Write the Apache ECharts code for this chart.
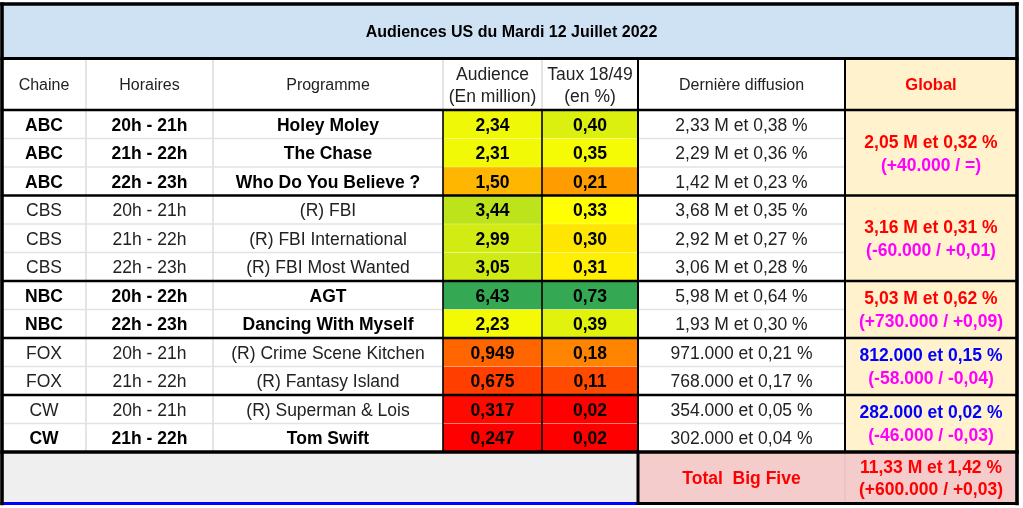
<!DOCTYPE html>
<html><head><meta charset="utf-8">
<script src="https://cdn.jsdelivr.net/npm/echarts@6/dist/echarts.min.js"></script>
<style>html,body{margin:0;padding:0;background:#fff}#c{width:1023px;height:508px}</style>
</head><body><div id="c"></div>
<script>
// ---------------- data ----------------
const title = 'Audiences US du Mardi 12 Juillet 2022';
const headers = ['Chaine','Horaires','Programme','Audience\n(En million)','Taux 18/49\n(en %)','Dernière diffusion','Global'];
const chaines = ['ABC','ABC','ABC','CBS','CBS','CBS','NBC','NBC','FOX','FOX','CW','CW'];
const horaires = ['20h - 21h','21h - 22h','22h - 23h','20h - 21h','21h - 22h','22h - 23h','20h - 22h','22h - 23h','20h - 21h','21h - 22h','20h - 21h','21h - 22h'];
const programmes = ['Holey Moley','The Chase','Who Do You Believe ?','(R) FBI','(R) FBI International','(R) FBI Most Wanted','AGT','Dancing With Myself','(R) Crime Scene Kitchen','(R) Fantasy Island','(R) Superman & Lois','Tom Swift'];
const audience = [2.34,2.31,1.50,3.44,2.99,3.05,6.43,2.23,0.949,0.675,0.317,0.247];
const taux = [0.40,0.35,0.21,0.33,0.30,0.31,0.73,0.39,0.18,0.11,0.02,0.02];
const derniere = ['2,33 M et 0,38 %','2,29 M et 0,36 %','1,42 M et 0,23 %','3,68 M et 0,35 %','2,92 M et 0,27 %','3,06 M et 0,28 %','5,98 M et 0,64 %','1,93 M et 0,30 %','971.000 et 0,21 %','768.000 et 0,17 %','354.000 et 0,05 %','302.000 et 0,04 %'];
const networks = ['ABC','CBS','NBC','FOX','CW'];
const networkRows = [3,3,2,2,2];
const globalMain = ['2,05 M et 0,32 %','3,16 M et 0,31 %','5,03 M et 0,62 %','812.000 et 0,15 %','282.000 et 0,02 %'];
const globalDelta = ['(+40.000 / =)','(-60.000 / +0,01)','(+730.000 / +0,09)','(-58.000 / -0,04)','(-46.000 / -0,03)'];
const totalLabel = 'Total  Big Five';
const totalMain = '11,33 M et 1,42 %';
const totalDelta = '(+600.000 / +0,03)';

// ---------------- layout & style ----------------
const colWidths = [84,127,230,99,96,207,172];
const titleH = 54.5, headerH = 51.5, rowH = 28.5, totalH = 51.5;
const boldRows = [0,1,2,6,7,11];
const globalMainColors = ['#ff0000','#ff0000','#ff0000','#0000ff','#0000ff'];
const deltaColor = '#ff00ff';
const scaleLow = '#ff0000', scaleMid = '#ffff00', scaleHigh = '#34a853';
const audienceMid = 2.0, tauxMid = 0.33;
const FONT = '"Liberation Sans", Arial, sans-serif';
const LIGHT = '#e2e2e2';
const TEXT_DY = 1.5;

const colX = [0];
colWidths.forEach(w => colX.push(colX[colX.length-1] + w));
const W = colX[colX.length-1];
const yTitle = 0, yHeader = titleH, yData = titleH + headerH;
const rowY = i => yData + i * rowH;
const yDataEnd = rowY(chaines.length);
const H = yDataEnd + totalH;

function hexToRgb(h){return [1,3,5].map(i=>parseInt(h.slice(i,i+2),16));}
function scaleColor(v, arr, mid){
  const min = Math.min(...arr), max = Math.max(...arr);
  let a,b,t;
  if (v <= mid){a=hexToRgb(scaleLow);b=hexToRgb(scaleMid);t=(v-min)/(mid-min);}
  else {a=hexToRgb(scaleMid);b=hexToRgb(scaleHigh);t=(v-mid)/(max-mid);}
  t = Math.max(0, Math.min(1, t));
  return 'rgb(' + a.map((x,i)=>Math.round(x+(b[i]-x)*t)).join(',') + ')';
}
const fmtAud = v => (v < 1 ? v.toFixed(3) : v.toFixed(2)).replace('.', ',');
const fmtTaux = v => v.toFixed(2).replace('.', ',');

// ---------------- build cells ----------------
const fills = [], texts = [], lines = [];
function fill(x0,y0,x1,y1,color){fills.push({value:[x0,y0,x1,y1], color});}
function text(x,y,t,o){texts.push(Object.assign({value:[x,y], text:t, size:17.5, weight:'normal', color:'#222', lh:22}, o||{}));}
function line(x0,y0,x1,y1,color,w){lines.push({value:[x0,y0,x1,y1], color, w});}
const cx = c => (colX[c] + colX[c+1]) / 2;

// title
fill(0,yTitle,W,yHeader,'#cfe2f3');
text(W/2+2,(yTitle+yHeader)/2,title,{size:16,weight:'bold',color:'#000'});
// header
fill(0,yHeader,colX[6],yData,'#ffffff');
fill(colX[6],yHeader,W,yData,'#fff2cc');
headers.forEach((h,c)=>{
  const o = {size:16};
  if (c===3||c===4) o.size = 17.5;
  if (c===6) {o.weight='bold'; o.color='#ff0000'; o.size=16.5;}
  text(cx(c),(yHeader+yData)/2,h,o);
});
// data rows
chaines.forEach((ch,i)=>{
  const y0 = rowY(i), y1 = rowY(i+1), ym = (y0+y1)/2;
  const bold = boldRows.indexOf(i) >= 0;
  const o = bold ? {weight:'bold', color:'#000'} : {};
  fill(0,y0,colX[3],y1,'#ffffff');
  fill(colX[3],y0,colX[4],y1,scaleColor(audience[i],audience,audienceMid));
  fill(colX[4],y0,colX[5],y1,scaleColor(taux[i],taux,tauxMid));
  fill(colX[5],y0,colX[6],y1,'#ffffff');
  text(cx(0),ym,ch,o);
  text(cx(1),ym,horaires[i],o);
  text(cx(2),ym,programmes[i],o);
  text(cx(3),ym,fmtAud(audience[i]),{weight:'bold',color:'#000'});
  text(cx(4),ym,fmtTaux(taux[i]),{weight:'bold',color:'#000'});
  text(cx(5),ym,derniere[i]);
});
// network groups (global column)
let start = 0;
const groupEdges = [];
networks.forEach((n,g)=>{
  const y0 = rowY(start), y1 = rowY(start + networkRows[g]), ym = (y0+y1)/2;
  fill(colX[6],y0,W,y1,'#fff2cc');
  text(cx(6),ym-11.5,globalMain[g],{weight:'bold',color:globalMainColors[g]});
  text(cx(6),ym+11.5,globalDelta[g],{weight:'bold',color:deltaColor});
  for (let k=start+1;k<start+networkRows[g];k++){
    line(0,rowY(k),colX[3],rowY(k),LIGHT,1.5);
    line(colX[3],rowY(k),colX[5],rowY(k),'rgba(255,255,255,0.3)',1.2);
    line(colX[5],rowY(k),colX[6],rowY(k),LIGHT,1.5);
  }
  start += networkRows[g];
  if (g < networks.length-1) groupEdges.push(rowY(start));
});
// total row
fill(0,yDataEnd,colX[5],H,'#efefef');
fill(colX[5],yDataEnd,W,H,'#f4cccc');
const ymT = (yDataEnd+H)/2;
text(cx(5),ymT,totalLabel,{weight:'bold',color:'#ff0000'});
text(cx(6),ymT-11.3,totalMain,{weight:'bold',color:'#ff0000'});
text(cx(6),ymT+11.3,totalDelta,{weight:'bold',color:'#ff0000'});

// light verticals
line(colX[1],yHeader,colX[1],yDataEnd,LIGHT,1.8);
line(colX[2],yHeader,colX[2],yDataEnd,LIGHT,1.8);
line(colX[3],yHeader,colX[3],yData,LIGHT,1.8);
line(colX[4],yHeader,colX[4],yData,LIGHT,1.8);
line(colX[6],yDataEnd,colX[6],H,'#e6bcbc',1);
// black verticals
line(colX[3],yData,colX[3],yDataEnd,'#000',1.6);
line(colX[4],yData,colX[4],yDataEnd,'#000',1.6);
line(colX[5],yHeader,colX[5],yDataEnd,'#000',2);
line(colX[6],yHeader,colX[6],yDataEnd,'#000',2);
// horizontals
line(0,yHeader,W,yHeader,'#000',3.2);
line(0,yData,W,yData,'#000',2.6);
groupEdges.forEach(y=>line(0,y,W,y,'#000',2.4));
line(0,yDataEnd,W,yDataEnd,'#000',3.4);
line(colX[5],yDataEnd,colX[5],H,'#000',3);
line(0,H,colX[5],H,'#0000ff',3);
line(colX[5],H,W,H,'#000',3.2);
// outer frame
line(0,0,W,0,'#000',3.5);
line(0,0,0,H,'#000',3.6);
line(W,0,W,H,'#000',3.6);

// ---------------- chart ----------------
const chart = echarts.init(document.getElementById('c'), null, {renderer:'canvas'});
chart.setOption({
  animation:false,
  backgroundColor:'#ffffff',
  grid:{left:2, top:4, width:W, height:H},
  xAxis:{type:'value', min:0, max:W, show:false},
  yAxis:{type:'value', min:0, max:H, inverse:true, show:false},
  series:[
    {type:'custom', z:1, data:fills.map(d=>d.value), silent:true,
     renderItem:(p,api)=>{
       const a=api.coord([api.value(0),api.value(1)]), b=api.coord([api.value(2),api.value(3)]);
       return {type:'rect', shape:{x:a[0],y:a[1],width:b[0]-a[0],height:b[1]-a[1]}, style:{fill:fills[p.dataIndex].color}};
     }},
    {type:'custom', z:2, data:lines.map(d=>d.value), silent:true,
     renderItem:(p,api)=>{
       const a=api.coord([api.value(0),api.value(1)]), b=api.coord([api.value(2),api.value(3)]);
       const l=lines[p.dataIndex];
       return {type:'line', shape:{x1:a[0],y1:a[1],x2:b[0],y2:b[1]}, style:{stroke:l.color,lineWidth:l.w,lineCap:'square'}};
     }},
    {type:'custom', z:3, data:texts.map(d=>d.value), silent:true,
     renderItem:(p,api)=>{
       const a=api.coord([api.value(0),api.value(1)]);
       const t=texts[p.dataIndex];
       return {type:'text', x:a[0], y:a[1]+TEXT_DY, style:{text:t.text, fill:t.color, fontSize:t.size, fontWeight:t.weight, fontFamily:FONT, lineHeight:t.lh, align:'center', verticalAlign:'middle', textAlign:'center', textVerticalAlign:'middle'}};
     }}
  ]
});
</script></body></html>
